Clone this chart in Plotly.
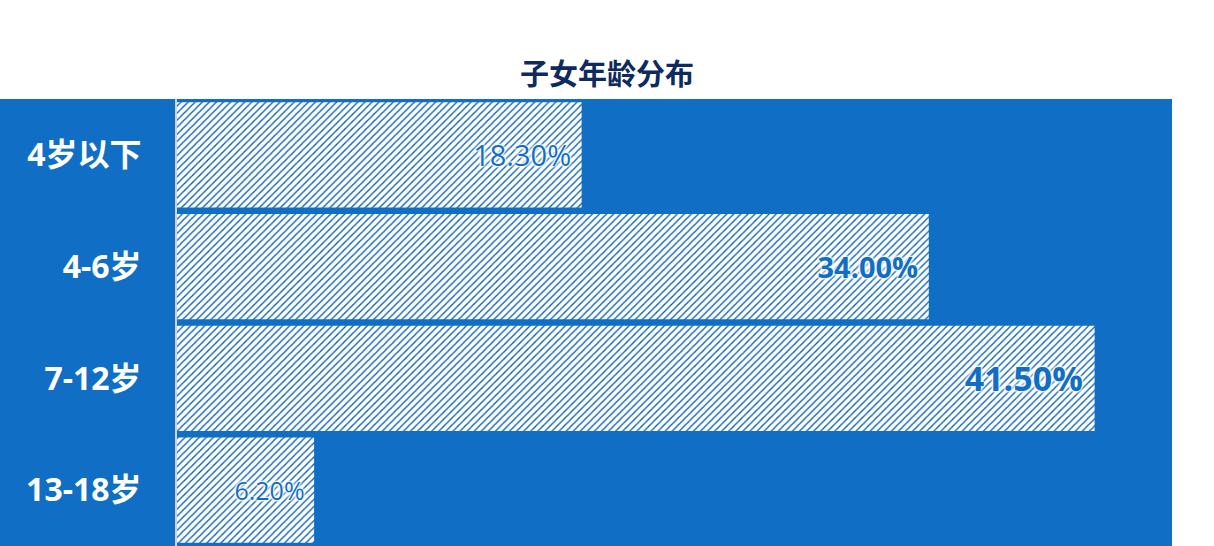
#!/usr/bin/env python3
# -*- coding: utf-8 -*-

'''
子女年龄分布 条形图
'''

import plotly;

# 数据
categories = ["4岁以下", "4-6岁", "7-12岁", "13-18岁"];
values = [18.3, 34.0, 41.5, 6.2];
value_labels = ["18.30%", "34.00%", "41.50%", "6.20%"];
label_sizes = [29, 29, 34, 25];
label_weights = ["normal", "bold", "bold", "normal"];

BLUE = "#106fc5";
FONT = "Open Sans, Noto Sans CJK SC, sans-serif";

def draw_bar_graph():
    # 准备图轨数据
    trace = plotly.graph_objs.Bar(
        x=values,
        y=categories,
        orientation="h",
        text=[t + " " for t in value_labels],
        textposition="inside",
        insidetextanchor="end",
        textangle=0,
        textfont=dict(
            family=FONT,
            size=label_sizes,
            weight=label_weights,
            color=BLUE,
            shadow="0 0 2px #fff, 0 0 2px #fff, 0 0 3px #fff, 0 0 3px #fff, 0 0 4px #fff"
        ),
        marker=dict(
            color="white",
            line=dict(width=0),
            pattern=dict(shape="/", fgcolor="#0a62b8", fgopacity=1, bgcolor="white",
                         size=5, solidity=0.28)
        ),
        cliponaxis=False,
        hoverinfo="skip"
    );

    # 设置画布布局
    layout = plotly.graph_objs.Layout(
        width=1214,
        height=546,
        margin=dict(l=177, r=42, t=99, b=0),
        paper_bgcolor="white",
        plot_bgcolor=BLUE,
        bargap=0.06,
        showlegend=False,
        font=dict(family=FONT),
        title=dict(
            text="<b>子女年龄分布</b>",
            font=dict(family=FONT, size=29, color="#0e2a5e"),
            x=0.5, xref="container", xanchor="center",
            y=1 - 75 / 546, yref="container", yanchor="middle"
        ),
        xaxis=dict(range=[0, 45], visible=False, showgrid=False, zeroline=False),
        yaxis=dict(
            autorange="reversed",
            showgrid=False,
            zeroline=False,
            showline=True,
            linecolor="#d3d3d3",
            linewidth=2,
            ticks="",
            ticklabelstandoff=27,
            tickfont=dict(family=FONT, size=32, color="white", weight="bold")
        ),
        shapes=[
            # 左侧标签区域的蓝色底
            dict(type="rect", xref="paper", yref="paper",
                 x0=-177 / 995, x1=0, y0=0, y1=1,
                 fillcolor=BLUE, line=dict(width=0), layer="below")
        ]
    );

    figure = plotly.graph_objs.Figure(data=[trace], layout=layout);
    # 去掉页面默认边距，让画布贴齐窗口
    figure.write_html("out.html", config={"displayModeBar": False},
                      post_script="document.body.style.margin='0';");

if __name__ == "__main__":
    draw_bar_graph();
